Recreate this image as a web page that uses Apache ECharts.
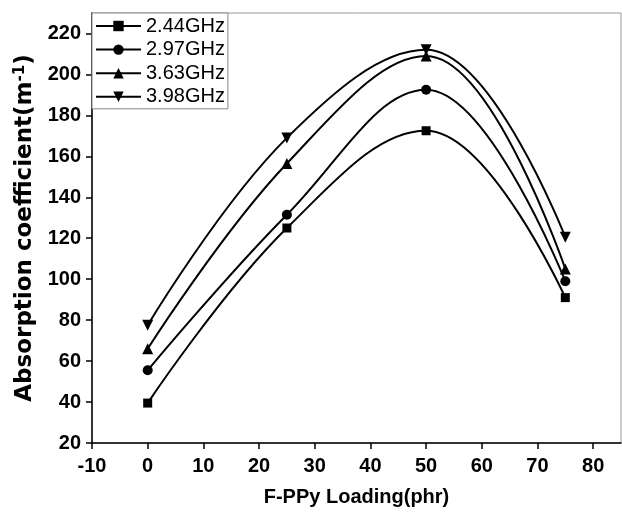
<!DOCTYPE html>
<html>
<head>
<meta charset="utf-8">
<script src="https://cdn.jsdelivr.net/npm/echarts@6/dist/echarts.min.js"></script>
<style>
html, body { margin: 0; padding: 0; background: #fff; }
#chart { width: 622px; height: 513px; }
</style>
</head>
<body>
<div id="chart"></div>
<script>
// F-PPy loading (phr)
const loading = [0, 25, 50, 75];
const seriesNames = ['2.44GHz', '2.97GHz', '3.63GHz', '3.98GHz'];
// absorption coefficient (m^-1)
const ghz244 = [39.5, 125, 172.5, 91];
const ghz297 = [55.5, 131.5, 192.5, 99];
const ghz363 = [66, 156.5, 209, 105];
const ghz398 = [77.5, 169, 212, 120.5];

const values = [ghz244, ghz297, ghz363, ghz398];
const symbols = ['rect', 'circle', 'triangle', 'triangle'];
const rotates = [0, 0, 0, 180];
const sizes = [9, 10, 11, 11];

const font = 'Liberation Sans, Arial, sans-serif';
const titleFont = 'DejaVu Sans, Liberation Sans, sans-serif';
const chart = echarts.init(document.getElementById('chart'));

const series = values.map((vals, i) => ({
    name: seriesNames[i],
    type: 'line',
    smooth: 0.4,
    data: loading.map((x, j) => [x, vals[j]]),
    symbol: symbols[i],
    symbolRotate: rotates[i],
    symbolSize: sizes[i],
    showAllSymbol: true,
    lineStyle: { color: '#000', width: 2 },
    itemStyle: { color: '#000' },
    z: 3
}));

chart.setOption({
    animation: false,
    grid: {
        left: 92, right: 1, top: 13, bottom: 70,
        show: true, borderColor: '#999', borderWidth: 1
    },
    legend: {
        left: 92, top: 13,
        orient: 'vertical',
        data: seriesNames,
        itemWidth: 45, itemHeight: 13,
        itemGap: 3.6,
        padding: [3, 3, 2, 3],
        borderColor: '#888', borderWidth: 1,
        backgroundColor: '#fff',
        textStyle: { fontFamily: font, fontSize: 20, lineHeight: 20, color: '#000' }
    },
    xAxis: {
        type: 'value', min: -10, max: 85, interval: 10,
        name: 'F-PPy Loading(phr)', nameLocation: 'middle', nameGap: 44,
        nameTextStyle: { fontFamily: font, fontSize: 20, fontWeight: 'bold', color: '#000' },
        axisLine: { onZero: false, lineStyle: { color: '#000', width: 1.5 } },
        axisTick: { show: true, length: 6, lineStyle: { color: '#000', width: 1.5 } },
        axisLabel: { fontFamily: font, fontSize: 20, fontWeight: 'bold', color: '#000', margin: 13, showMaxLabel: false },
        splitLine: { show: false }
    },
    yAxis: {
        type: 'value', min: 20, max: 230, interval: 20,
        name: '{t|Absorption coefficient(m}{s|-1}{t|)}', nameLocation: 'middle', nameGap: 46,
        nameTextStyle: {
            rich: {
                t: { fontFamily: titleFont, fontSize: 23, fontWeight: 'bold', color: '#000' },
                s: { fontFamily: titleFont, fontSize: 15, fontWeight: 'bold', color: '#000', verticalAlign: 'top', padding: [0, 0, 10, 0] }
            }
        },
        axisLine: { onZero: false, lineStyle: { color: '#000', width: 1.5 } },
        axisTick: { show: true, length: 6, lineStyle: { color: '#000', width: 1.5 } },
        axisLabel: { fontFamily: font, fontSize: 20, fontWeight: 'bold', color: '#000', margin: 11, showMaxLabel: false },
        splitLine: { show: false }
    },
    series: series
});
</script>
</body>
</html>
